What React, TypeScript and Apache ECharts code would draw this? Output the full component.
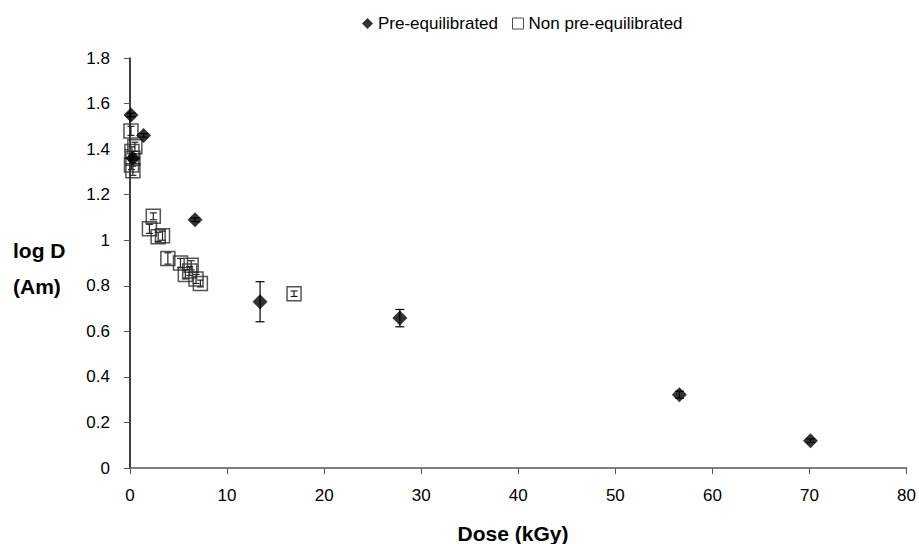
import React, { useEffect, useRef } from "react";
import * as echarts from "echarts";

const preX = [0.1, 1.4, 0.3, 6.7, 13.4, 27.8, 56.6, 70.1];
const preY = [1.55, 1.46, 1.36, 1.09, 0.73, 0.658, 0.322, 0.12];
const preErr = [0.008, 0.008, 0.008, 0.008, 0.088, 0.038, 0.015, 0.008];

const nonX = [0.1, 0.5, 0.2, 0.3, 0.15, 0.3, 2.4, 2.0, 2.9, 3.35, 3.9, 5.2, 6.3, 5.7, 6.15, 6.8, 7.25, 16.9];
const nonY = [1.48, 1.41, 1.39, 1.36, 1.33, 1.305, 1.105, 1.05, 1.015, 1.02, 0.92, 0.9, 0.89, 0.85, 0.865, 0.83, 0.81, 0.765];
const nonErr = [0.02, 0.02, 0.02, 0.02, 0.02, 0.02, 0.015, 0.02, 0.02, 0.02, 0.025, 0.02, 0.02, 0.02, 0.02, 0.02, 0.015, 0.012];

const xTicks = [0, 10, 20, 30, 40, 50, 60, 70, 80];
const yTicks = [0, 0.2, 0.4, 0.6, 0.8, 1, 1.2, 1.4, 1.6, 1.8];

const seriesNames = ["Pre-equilibrated", "Non pre-equilibrated"];

function errRender(cap: number, color: string) {
  return (params: any, api: any) => {
    const x = api.value(0);
    const y = api.value(1);
    const e = api.value(2);
    const top = api.coord([x, y + e]);
    const bot = api.coord([x, y - e]);
    const st = { stroke: color, lineWidth: 1.2 };
    return {
      type: "group",
      children: [
        { type: "line", shape: { x1: top[0], y1: top[1], x2: bot[0], y2: bot[1] }, style: st },
        { type: "line", shape: { x1: top[0] - cap, y1: top[1], x2: top[0] + cap, y2: top[1] }, style: st },
        { type: "line", shape: { x1: bot[0] - cap, y1: bot[1], x2: bot[0] + cap, y2: bot[1] }, style: st },
      ],
    };
  };
}

export default function App() {
  const ref = useRef<HTMLDivElement>(null);
  useEffect(() => {
    if (!ref.current) return;
    const chart = echarts.init(ref.current, null, { renderer: "svg" });
    const font = "Liberation Sans, Arial, sans-serif";
    const preData = preX.map((x, i) => [x, preY[i]]);
    const nonData = nonX.map((x, i) => [x, nonY[i]]);
    const preErrData = preX.map((x, i) => [x, preY[i], preErr[i]]);
    const nonErrData = nonX.map((x, i) => [x, nonY[i], nonErr[i]]);
    chart.setOption({
      animation: false,
      backgroundColor: "#fff",
      textStyle: { fontFamily: font },
      grid: { left: 130, right: 9, top: 58, bottom: 76 },
      legend: {
        top: 10,
        left: 357,
        itemWidth: 11,
        itemHeight: 11,
        itemGap: 14,
        textStyle: { fontSize: 17, color: "#000", fontFamily: font },
        data: [
          { name: seriesNames[0], icon: "diamond" },
          { name: seriesNames[1], icon: "rect", itemStyle: { color: "#fff", borderColor: "#222", borderWidth: 1 } },
        ],
      },
      xAxis: {
        type: "value",
        min: xTicks[0],
        max: xTicks[xTicks.length - 1],
        interval: 10,
        axisLine: { lineStyle: { color: "#555", width: 1.5 } },
        axisTick: { show: true, length: 6, lineStyle: { color: "#555" } },
        axisLabel: { fontSize: 17, color: "#000", margin: 19 },
        splitLine: { show: false },
      },
      yAxis: {
        type: "value",
        min: yTicks[0],
        max: yTicks[yTicks.length - 1],
        interval: 0.2,
        axisLine: { show: true, lineStyle: { color: "#000", width: 1.5 } },
        axisTick: { show: true, length: 6, lineStyle: { color: "#555" } },
        axisLabel: {
          fontSize: 17,
          color: "#000",
          margin: 20,
          formatter: (v: number) => String(Math.round(v * 10) / 10),
        },
        splitLine: { show: false },
      },
      graphic: [
        {
          type: "text",
          left: 13,
          top: 232,
          style: {
            text: "log D\n(Am)",
            fontSize: 21,
            fontWeight: "bold",
            fill: "#000",
            fontFamily: font,
            lineHeight: 36,
          },
        },
        {
          type: "text",
          x: 513,
          y: 533,
          style: {
            text: "Dose (kGy)",
            fontSize: 21,
            fontWeight: "bold",
            fill: "#000",
            fontFamily: font,
            align: "center",
            verticalAlign: "middle",
          },
        },
      ],
      series: [
        {
          name: seriesNames[1],
          type: "scatter",
          data: nonData,
          symbol: "rect",
          symbolSize: 14,
          itemStyle: { color: "rgba(255,255,255,0)", borderColor: "#2a2a2a", borderWidth: 1.5 },
          z: 3,
        },
        {
          name: seriesNames[1] + " err",
          type: "custom",
          data: nonErrData,
          renderItem: errRender(3.5, "#222"),
          z: 3,
          silent: true,
        },
        {
          name: seriesNames[0],
          type: "scatter",
          data: preData,
          symbol: "diamond",
          symbolSize: 15,
          itemStyle: { color: "#000" },
          z: 4,
        },
        {
          name: seriesNames[0] + " err",
          type: "custom",
          data: preErrData,
          renderItem: errRender(4.5, "#000"),
          z: 4,
          silent: true,
        },
      ],
    });
    return () => chart.dispose();
  }, []);
  return <div ref={ref} style={{ position: "absolute", left: 0, top: 0, width: 919, height: 544 }} />;
}
